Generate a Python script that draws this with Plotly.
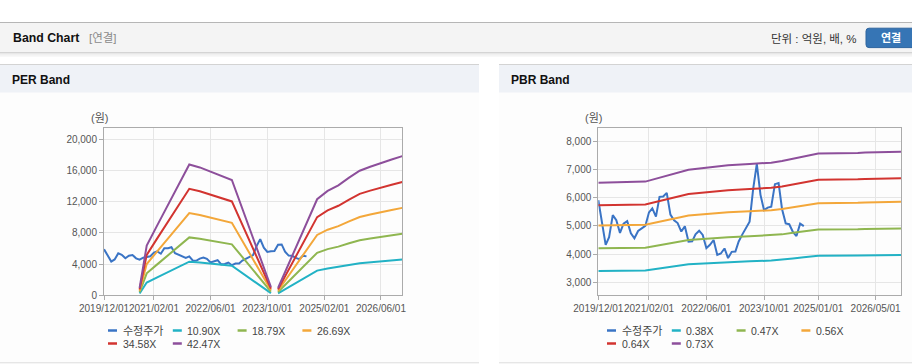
import plotly.graph_objects as go
import pandas as pd

W, H = 912, 364


def X(p):
    return p / W


def Y(p):
    return 1 - p / H


# ---------------- data ----------------
price_dates = pd.date_range("2019-12-01", periods=58, freq="MS").strftime("%Y-%m-%d").tolist()
price = [5910, 5100, 4330, 4600, 5380, 5200, 4750, 5080, 5170, 4740,
         4560, 4820, 4900, 5000, 5480, 5620, 5330, 6030, 6040, 6170,
         5400, 5200, 5100, 4800, 4990, 4440, 4450, 4700, 4830, 4680,
         4210, 4330, 4500, 3970, 4020, 4200, 3860, 4080, 4090, 4450,
         4700, 4900, 5150, 6300, 7200, 6100, 5560, 5650, 5680, 6480,
         6520, 5600, 5090, 5060, 4790, 4640, 5080, 4990]

per_dates = ["2020-10-01", "2020-12-01", "2021-03-01", "2021-06-01", "2021-09-01",
             "2021-12-01", "2022-03-01", "2022-06-01", "2022-09-01", "2022-12-01",
             "2023-11-01", "2023-12-01", "2024-01-01", "2024-12-01", "2025-03-01",
             "2025-06-01", "2025-09-01", "2025-12-01", "2026-03-01", "2026-06-01",
             "2026-09-01", "2026-12-01"]
per_1090 = [240, 1635, 2300, 2976, 3641, 4306, 4207, 4066, 3946, 3793, 273, None,
            240, 3161, 3434, 3619, 3870, 4098, 4229, 4360, 4469, 4578]
per_1879 = [413, 2819, 3965, 5130, 6276, 7422, 7253, 7009, 6802, 6539, 470, None,
            413, 5449, 5919, 6238, 6670, 7065, 7291, 7516, 7704, 7892]
per_2669 = [587, 4004, 5632, 7286, 8914, 10543, 10302, 9955, 9662, 9288, 667, None,
            587, 7740, 8407, 8861, 9475, 10035, 10356, 10676, 10943, 11210]
per_3458 = [761, 5187, 7296, 9440, 11550, 13659, 13348, 12898, 12518, 12034, 865, None,
            761, 10028, 10893, 11481, 12276, 13002, 13417, 13832, 14178, 14524]
per_4247 = [934, 6371, 8961, 11594, 14185, 16776, 16393, 15841, 15374, 14780, 1062, None,
            934, 12316, 13378, 14100, 15077, 15969, 16478, 16988, 17413, 17837]

pbr_dates = ["2019-12-01", "2021-01-01", "2022-01-01", "2022-06-01", "2022-12-01",
             "2023-06-01", "2023-12-01", "2024-03-01", "2024-06-01", "2024-09-01",
             "2025-01-01", "2025-12-01", "2026-02-01", "2026-12-01"]
pbr_038 = [3401, 3420, 3640, 3678, 3720, 3747, 3770, 3800, 3846, 3887, 3941, 3948, 3956, 3971]
pbr_047 = [4207, 4230, 4503, 4550, 4601, 4634, 4662, 4700, 4756, 4808, 4874, 4883, 4893, 4912]
pbr_056 = [5012, 5040, 5365, 5421, 5482, 5522, 5555, 5600, 5667, 5729, 5807, 5818, 5830, 5852]
pbr_064 = [5728, 5760, 6131, 6195, 6266, 6310, 6349, 6400, 6477, 6547, 6637, 6650, 6662, 6688]
pbr_073 = [6534, 6570, 6993, 7066, 7147, 7198, 7242, 7300, 7388, 7468, 7570, 7585, 7599, 7629]

per_names = ["수정주가", "10.90X", "18.79X", "26.69X", "34.58X", "42.47X"]
pbr_names = ["수정주가", "0.38X", "0.47X", "0.56X", "0.64X", "0.73X"]
colors = ["#3a74c5", "#22b2c5", "#8fb650", "#f3a73a", "#d23430", "#8d4f9b"]

per_ticks = ["2019-12-01", "2021-02-01", "2022-06-01", "2023-10-01", "2025-02-01", "2026-06-01"]
pbr_ticks = ["2019-12-01", "2021-02-01", "2022-06-01", "2023-10-01", "2025-01-01", "2026-05-01"]
per_yticks = [0, 4000, 8000, 12000, 16000, 20000]
pbr_yticks = [3000, 4000, 5000, 6000, 7000, 8000]

# ---------------- figure ----------------
FONT = "Liberation Sans, Arial, Noto Sans CJK KR, sans-serif"
fig = go.Figure()

per_series = [(price_dates, price)] + [(per_dates, s) for s in (per_1090, per_1879, per_2669, per_3458, per_4247)]
pbr_series = [(price_dates, price)] + [(pbr_dates, s) for s in (pbr_038, pbr_047, pbr_056, pbr_064, pbr_073)]

for (xs, ys), name, c in zip(per_series, per_names, colors):
    fig.add_trace(go.Scatter(x=xs, y=ys, mode="lines", name=name, line=dict(color=c, width=2),
                             connectgaps=False, showlegend=False, hoverinfo="skip",
                             xaxis="x", yaxis="y"))
for (xs, ys), name, c in zip(pbr_series, pbr_names, colors):
    fig.add_trace(go.Scatter(x=xs, y=ys, mode="lines", name=name, line=dict(color=c, width=2),
                             connectgaps=False, showlegend=False, hoverinfo="skip",
                             xaxis="x2", yaxis="y2"))

ydom = [Y(295.3), Y(128.3)]
axis_style = dict(showgrid=True, gridcolor="#e6e6e6", gridwidth=1, showline=True,
                  linecolor="#ababab", linewidth=1, mirror=True, ticks="outside",
                  ticklen=4, tickcolor="#ababab", zeroline=False, automargin=False,
                  tickangle=0, tickfont=dict(family=FONT, size=10, color="#555555"))

fig.update_layout(
    width=W, height=H, autosize=False,
    margin=dict(l=0, r=0, t=0, b=0, pad=0),
    paper_bgcolor="white", plot_bgcolor="white",
    font=dict(family=FONT),
    xaxis=dict(domain=[X(104), X(402.3)], anchor="y", type="date",
               range=["2019-11-30 18:00", "2026-12-01 06:00"],
               tickvals=per_ticks, ticktext=[t.replace("-", "/") for t in per_ticks], **axis_style),
    yaxis=dict(domain=ydom, anchor="x", range=[0, 21410], tickvals=per_yticks,
               tickformat=",d", **axis_style),
    xaxis2=dict(domain=[X(598.3), X(901)], anchor="y2", type="date",
                range=["2019-11-30 18:00", "2026-12-01 06:00"],
                tickvals=pbr_ticks, ticktext=[t.replace("-", "/") for t in pbr_ticks], **axis_style),
    yaxis2=dict(domain=ydom, anchor="x2", range=[2540, 8460], tickvals=pbr_yticks,
                tickformat=",d", **axis_style),
)

shapes = []


def rect(x0, y0, x1, y1, fill, line=None):
    shapes.append(dict(type="rect", xref="paper", yref="paper", x0=X(x0), x1=X(x1),
                       y0=Y(y1), y1=Y(y0), fillcolor=fill, layer="below",
                       line=dict(width=0) if line is None else dict(color=line, width=1)))


def hline(x0, x1, y, color, width=1):
    shapes.append(dict(type="line", xref="paper", yref="paper", x0=X(x0), x1=X(x1),
                       y0=Y(y), y1=Y(y), line=dict(color=color, width=width), layer="below"))


# top header bar
hline(0, 912, 22.5, "#b6b6b6")
rect(0, 23, 912, 52.3, "#f4f4f4")
hline(0, 912, 52.8, "#c4c4c4")
rect(0, 53.3, 912, 54.5, "#e4e4e4")
rect(0, 54.5, 912, 55.7, "#efefef")
rect(0, 55.7, 912, 57, "#f8f8f8")

# panel headers
for (a, b) in [(0, 479), (499, 912)]:
    hline(a, b, 64.5, "#d3d3d3")
    rect(a, 65, b, 92.7, "#eff2f7")
    rect(a, 92.7, b, 362, "#fdfdfd")
    hline(a, b, 362.8, "#dcdcdc")

# button
bx0, bx1, by0, by1, r = 866, 915, 28.2, 47.6, 3
shapes.append(dict(
    type="path", xref="paper", yref="paper", layer="below",
    path=(f"M {X(bx0 + r)},{Y(by0)} L {X(bx1)},{Y(by0)} L {X(bx1)},{Y(by1)} "
          f"L {X(bx0 + r)},{Y(by1)} Q {X(bx0)},{Y(by1)} {X(bx0)},{Y(by1 - r)} "
          f"L {X(bx0)},{Y(by0 + r)} Q {X(bx0)},{Y(by0)} {X(bx0 + r)},{Y(by0)} Z"),
    fillcolor="#3675b5", line=dict(color="#2d649e", width=1)))

annotations = []


def text(x, y, s, size, color="#111111", bold=False, xanchor="left", family=FONT):
    annotations.append(dict(xref="paper", yref="paper", x=X(x), y=Y(y), text=f"<b>{s}</b>" if bold else s,
                            showarrow=False, xanchor=xanchor, yanchor="middle",
                            font=dict(family=family, size=size, color=color)))


text(11, 38, "Band Chart", 12.3, bold=True)
text(87, 38.5, "[연결]", 11.5, color="#8a8a8a")
text(859, 38.5, "단위 : 억원, 배, %", 11.5, color="#333333", xanchor="right")
text(891, 38, "연결", 11, color="white", bold=True, xanchor="center")
text(10, 80, "PER Band", 12, bold=True)
text(509, 80, "PBR Band", 12, bold=True)
text(99, 118, "(원)", 11, color="#555555", xanchor="center")
text(593, 118, "(원)", 11, color="#555555", xanchor="center")

# legends
for base, names in [(108, per_names), (607, pbr_names)]:
    for i, (name, c) in enumerate(zip(names, colors)):
        col, row = i % 4, i // 4
        lx = base + col * 64.8
        ly = 330.5 + row * 13
        shapes.append(dict(type="line", xref="paper", yref="paper", x0=X(lx), x1=X(lx + 9),
                           y0=Y(ly), y1=Y(ly), line=dict(color=c, width=2.5)))
        text(lx + 12.5, ly, name, 11 if i == 0 else 10.5, color="#444444")

fig.update_layout(shapes=shapes, annotations=annotations)

fig.write_html("out.html", config={"displayModeBar": False},
               post_script="document.body.style.margin='0px';document.body.style.overflow='hidden';")
